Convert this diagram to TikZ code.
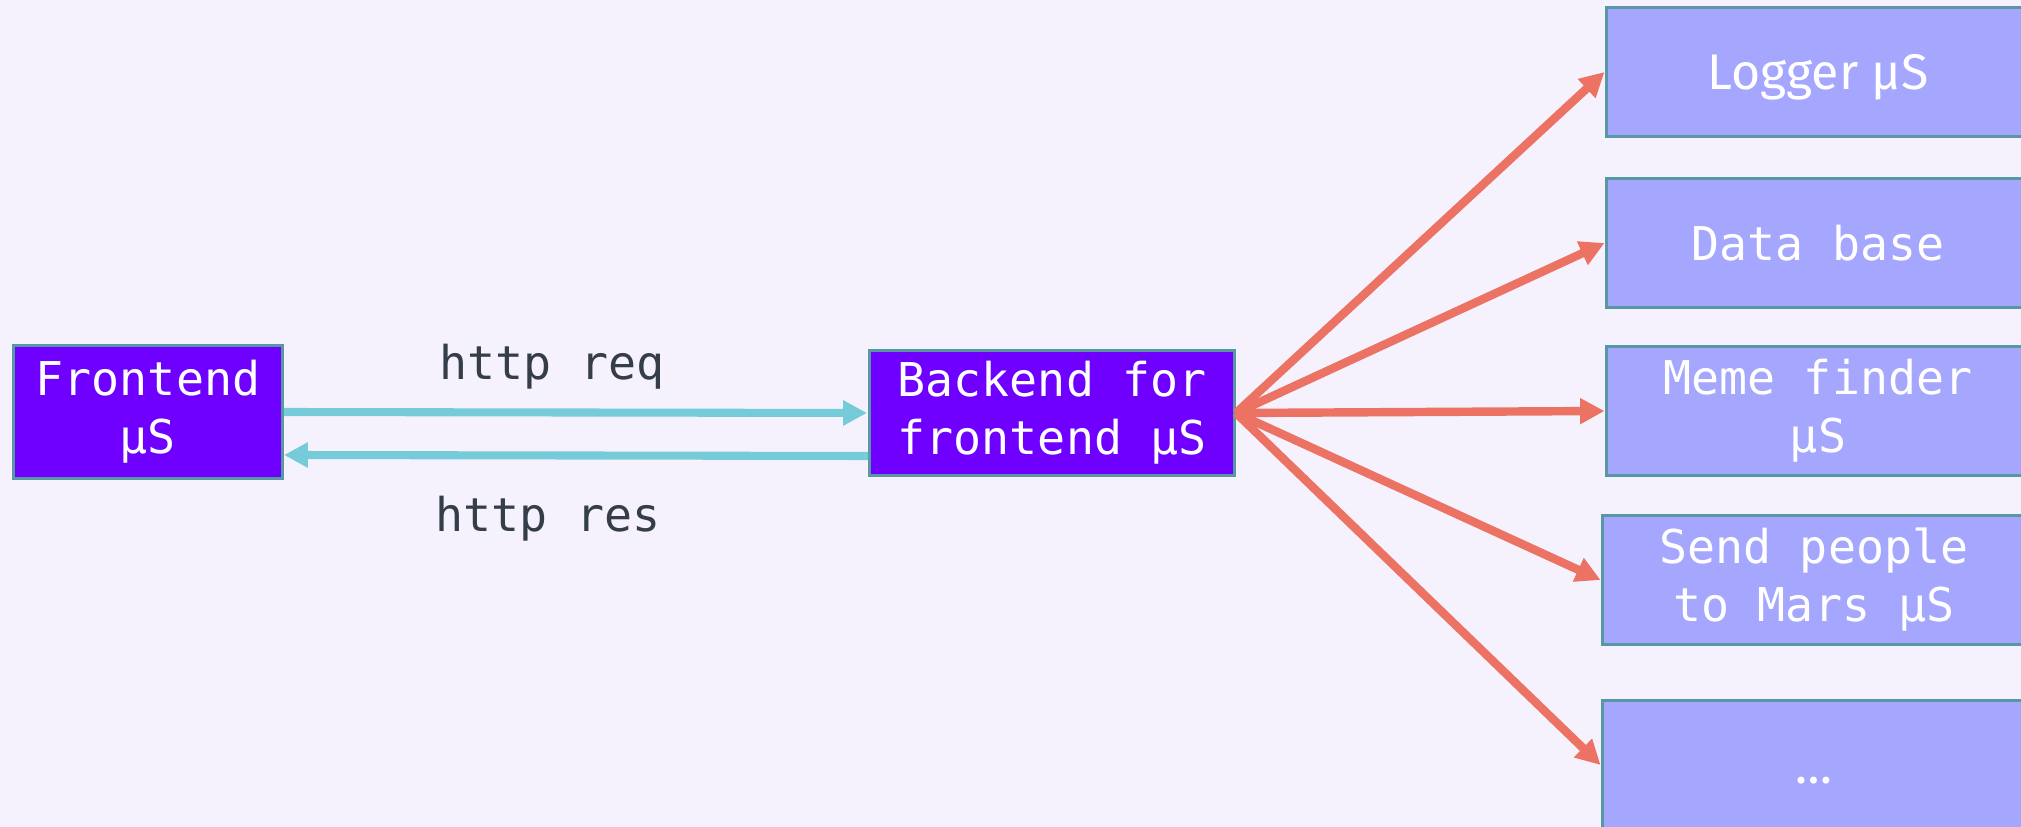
\documentclass[tikz,border=0pt]{standalone}
\usepackage{fontspec}
\setmainfont{DejaVu Sans Mono}
\newfontfamily\plexsans{Fira Sans}
\usetikzlibrary{arrows.meta}

\definecolor{pagebg}{RGB}{245,242,253}
\definecolor{edgeteal}{RGB}{88,152,164}
\definecolor{purplebox}{RGB}{111,0,255}
\definecolor{lilacbox}{RGB}{165,166,254}
\definecolor{reqcyan}{RGB}{118,203,217}
\definecolor{callred}{RGB}{236,114,99}
\definecolor{labelgray}{RGB}{52,61,72}

\begin{document}
\begin{tikzpicture}[x=0.02cm, y=-0.02cm,
                bigtext/.style={font=\fontsize{26.5}{33}\selectfont},
                sanstext/.style={font=\plexsans\fontsize{28.5}{34}\selectfont},
                svcbox/.style={bigtext, draw=edgeteal, line width=1.7pt, fill=purplebox, text=white, align=center, inner sep=0pt},
                msbox/.style={bigtext, draw=edgeteal, line width=1.7pt, fill=lilacbox, text=white, align=center, inner sep=0pt, minimum width=8.48cm, minimum height=2.58cm},
                httparrow/.style={draw=reqcyan, line width=4.6pt, -{Triangle[length=0.48cm, width=0.48cm]}},
                callarrow/.style={draw=callred, line width=4.8pt, -{Triangle[length=0.49cm, width=0.49cm]}},
                httplabel/.style={bigtext, text=labelgray}]
            \fill[pagebg] (0,0) rectangle (2021,827);
            \useasboundingbox (0,0) rectangle (2021,827);
            % left side
            \node[svcbox, minimum width=5.38cm, minimum height=2.68cm] (frontend) at (148,412) {Frontend\\µS};
            \node[svcbox, minimum width=7.3cm, minimum height=2.5cm] (bff) at (1052,413) {Backend for\\frontend µS};
            \node[httplabel] (reqlabel) at (552,367) {http req};
            \node[httplabel] (reslabel) at (548,519) {http res};
            \draw[httparrow] (frontend.east) -- ([xshift=-0.02cm]bff.west);
            \draw[httparrow] ([yshift=-0.86cm]bff.west) -- ([yshift=-0.86cm]frontend.east);
            % microservices
            \node[msbox, sanstext, text depth=0pt] (logger) at (1818,72) {Logger µS};
            \node[msbox] (database) at (1818,243) {Data base};
            \node[msbox] (memefinder) at (1818,411) {Meme finder\\µS};
            \node[msbox] (mars) at (1814,580) {Send people\\to Mars µS};
            \node[msbox, sanstext] (more) at (1814,765) {\raisebox{-0.37cm}[0pt][0pt]{…}};
            \foreach \target in {logger, database, memefinder, mars, more}
                \draw[callarrow] (bff.east) -- (\target.west);
\end{tikzpicture}
\end{document}
